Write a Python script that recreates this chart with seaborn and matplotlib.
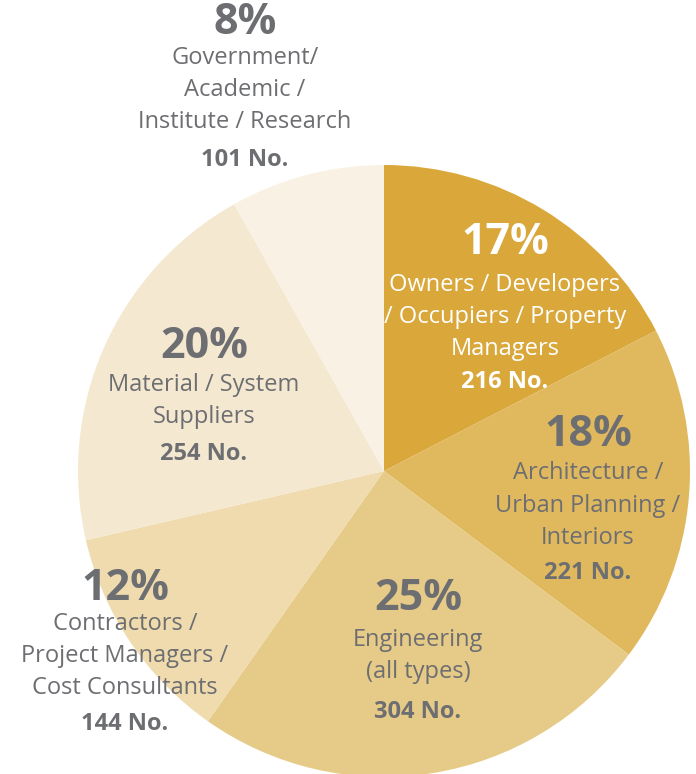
import matplotlib
matplotlib.use("Agg")
import matplotlib.pyplot as plt
import seaborn as sns

categories = ["Owners / Developers\n/ Occupiers / Property\nManagers",
              "Architecture /\nUrban Planning /\nInteriors",
              "Engineering\n(all types)",
              "Contractors /\nProject Managers /\nCost Consultants",
              "Material / System\nSuppliers",
              "Government/\nAcademic /\nInstitute / Research"]
counts = [216, 221, 304, 144, 254, 101]
percents = ["17%", "18%", "25%", "12%", "20%", "8%"]
colors = ["#D9A73A", "#E0B95F", "#E6CA87", "#EFDBAE", "#F5E8D0", "#F9F1E3"]

sns.set_theme(style="white")
plt.rcParams['font.family'] = ['Open Sans', 'DejaVu Sans']

W, H = 696, 774
fig = plt.figure(figsize=(W / 100, H / 100), dpi=100)
ax = fig.add_axes([0, 0, 1, 1])
palette = sns.color_palette(colors)
ax.pie(counts, colors=palette, startangle=90, counterclock=False,
       center=(384, H - 471), radius=306, wedgeprops=dict(linewidth=0))
ax.set_xlim(0, W)
ax.set_ylim(0, H)
ax.set_aspect("equal")
ax.axis("off")

gray = "#6D6E71"
# label anchor positions (pixel coords, top-origin): x, y of percent, y of first line, line step, y of count
layout = [
    (505, 243, 285, 32, 382, "white"),
    (588, 435, 473, 32.5, 573, gray),
    (418, 598, 640, 32, 712, gray),
    (125, 588, 624, 32, 724, gray),
    (204, 347, 385, 32, 454, gray),
    (245, 22, 58, 32, 160, gray),
]
for cat, n, pct, (x, yp, y1, step, yc, col) in zip(categories, counts, percents, layout):
    ax.text(x, H - yp, pct, ha="center", va="center", fontsize=31, fontweight="bold", color=col)
    for i, line in enumerate(cat.split("\n")):
        ax.text(x, H - (y1 + i * step), line, ha="center", va="center", fontsize=17, color=col)
    ax.text(x, H - yc, f"{n} No.", ha="center", va="center", fontsize=17, fontweight="bold", color=col)

fig.savefig("out.png", dpi=100)
